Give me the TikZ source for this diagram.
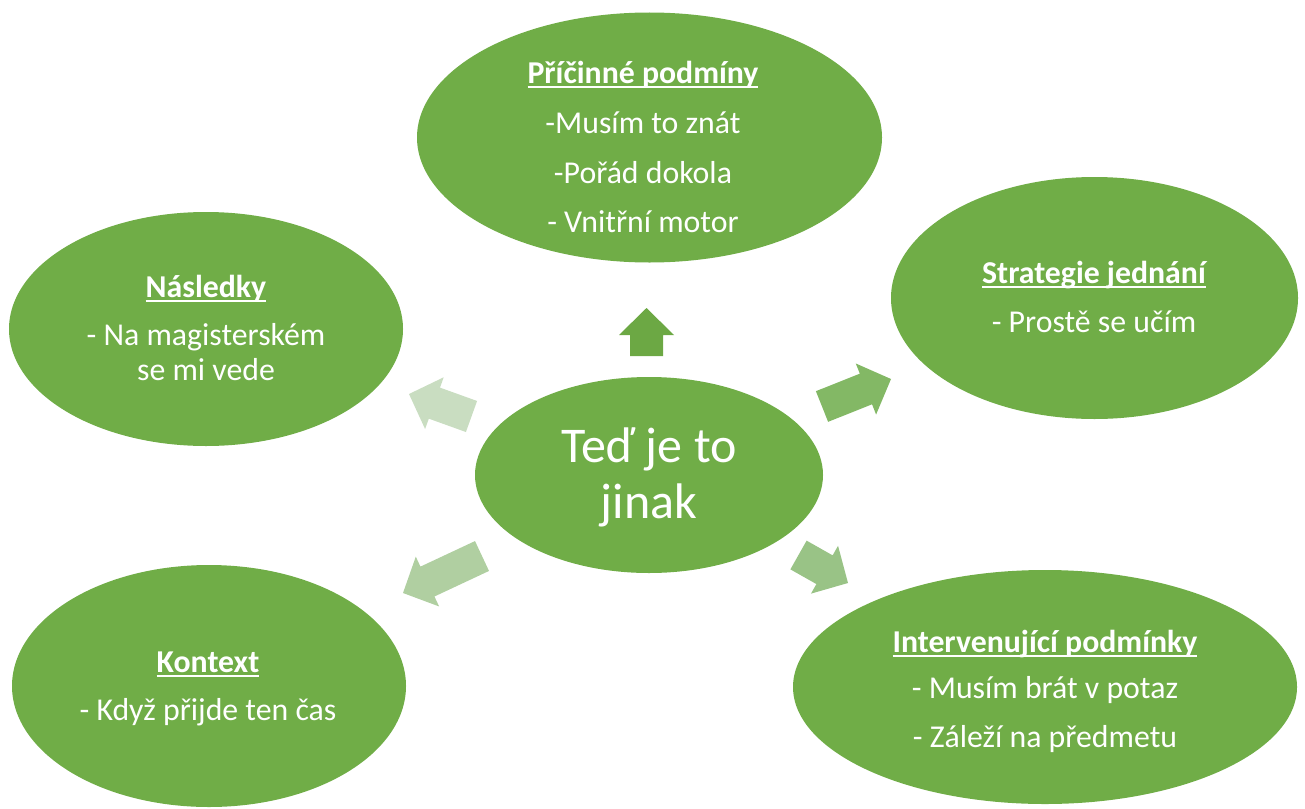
\documentclass[tikz,border=0pt]{standalone}
\usepackage{fontspec}
\setmainfont{Carlito}
\usetikzlibrary{shapes.geometric,calc}

\definecolor{bubblegreen}{HTML}{70AD47}
\definecolor{arrowup}{HTML}{6CA844}
\definecolor{arrowur}{HTML}{83B865}
\definecolor{arrowdr}{HTML}{99C386}
\definecolor{arrowdl}{HTML}{B0CFA1}
\definecolor{arrowul}{HTML}{C9DDC1}

% block arrow from (#1-tail) to (#1-tip), filled with #2
\newcommand\blockarrow[2]{%
  \coordinate (#1-head) at ($(#1-tip)!27pt!(#1-tail)$);
  \fill[#2] ($(#1-tail)!16.5pt!90:(#1-tip)$)
    -- ($(#1-head)!16.5pt!90:(#1-tip)$)
    -- ($(#1-head)!27.5pt!90:(#1-tip)$)
    -- (#1-tip)
    -- ($(#1-head)!27.5pt!-90:(#1-tip)$)
    -- ($(#1-head)!16.5pt!-90:(#1-tip)$)
    -- ($(#1-tail)!16.5pt!-90:(#1-tip)$)
    -- cycle;%
}

% bold underlined heading
\newsavebox\headbox
\newcommand\heading[1]{{\bfseries\sbox\headbox{#1}%
  \rlap{\rule[-5pt]{\wd\headbox}{1.8pt}}\usebox\headbox}}

\tikzset{
  bubble/.style={ellipse, fill=bubblegreen, inner sep=0pt},
  bubbletext/.style={anchor=base, inner sep=0pt, text=white,
    font=\fontsize{31.8}{35}\selectfont},
  hubtext/.style={anchor=base, inner sep=0pt, text=white,
    font=\fontsize{50}{56}\selectfont},
}

\begin{document}
\begin{tikzpicture}[x=1pt,y=-1pt]
\useasboundingbox (0,0) rectangle (1305,808);

% bubbles
\node[bubble, minimum width=348pt, minimum height=196pt] (hub) at (649,475) {};
\node[bubble, minimum width=465pt, minimum height=250pt] (cause) at (649.5,137.5) {};
\node[bubble, minimum width=394pt, minimum height=234pt] (conseq) at (206,329) {};
\node[bubble, minimum width=407pt, minimum height=242pt] (strat) at (1094.5,298) {};
\node[bubble, minimum width=394pt, minimum height=242pt] (context) at (209,686) {};
\node[bubble, minimum width=504pt, minimum height=234pt] (interv) at (1045,687) {};

% texts
\node[hubtext] (hub-text) at (649,462)
  {\begin{tabular}[t]{@{}c@{}}Teď je to\\jinak\end{tabular}};
\node[bubbletext] (cause-text) at (643,83)
  {\begin{tabular}[t]{@{}c@{}}\heading{Příčinné podmíny}\\[15pt]
   -Musím to znát\\[15pt] -Pořád dokola\\[14pt] - Vnitřní motor\end{tabular}};
\node[bubbletext] (conseq-text) at (206,297)
  {\begin{tabular}[t]{@{}c@{}}\heading{Následky}\\[13pt]
   - Na magisterském\\ se mi vede\end{tabular}};
\node[bubbletext] (strat-text) at (1094,283)
  {\begin{tabular}[t]{@{}c@{}}\heading{Strategie jednání}\\[14pt]
   - Prostě se učím\end{tabular}};
\node[bubbletext] (context-text) at (208,672)
  {\begin{tabular}[t]{@{}c@{}}\heading{Kontext}\\[13pt]
   - Když přijde ten čas\end{tabular}};
\node[bubbletext] (interv-text) at (1045,652)
  {\begin{tabular}[t]{@{}c@{}}\heading{Intervenující podmínky}\\[11pt]
   - Musím brát v potaz\\[14pt] - Záleží na předmetu\end{tabular}};

% block arrows around the hub
\coordinate (up-tail) at (646.5,356);  \coordinate (up-tip) at (646.5,308);
\coordinate (ur-tail) at (822,406.5);  \coordinate (ur-tip) at (891,379);
\coordinate (dr-tail) at (798.5,555);  \coordinate (dr-tip) at (848,583);
\coordinate (dl-tail) at (482,556);    \coordinate (dl-tip) at (403,593);
\coordinate (ul-tail) at (471.5,416.5);\coordinate (ul-tip) at (409,394);
\blockarrow{up}{arrowup}
\blockarrow{ur}{arrowur}
\blockarrow{dr}{arrowdr}
\blockarrow{dl}{arrowdl}
\blockarrow{ul}{arrowul}
\end{tikzpicture}
\end{document}
